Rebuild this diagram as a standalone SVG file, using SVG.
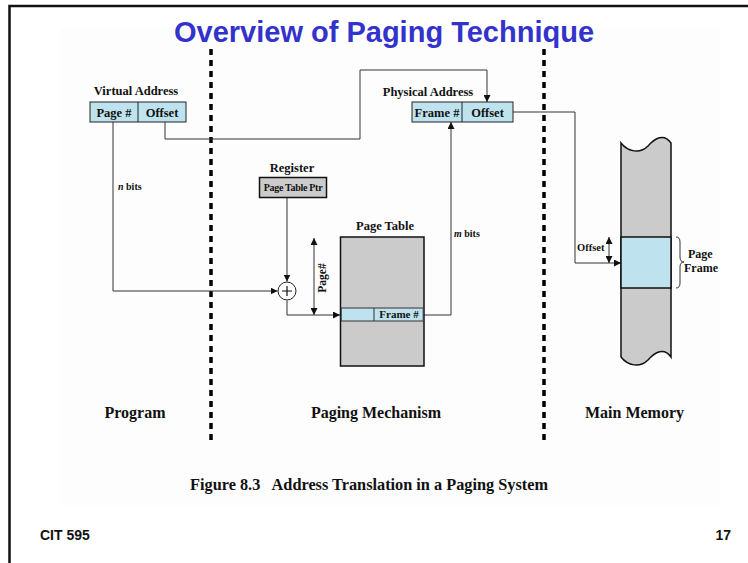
<svg xmlns="http://www.w3.org/2000/svg" width="748" height="563" viewBox="0 0 748 563">
<defs>
<style>
.t{font-family:"Liberation Serif","Times New Roman",serif;font-weight:bold;fill:#111}
.s{font-family:"Liberation Sans",Arial,sans-serif;font-weight:bold}
.ln{fill:none;stroke:#333;stroke-width:1}
.blue{fill:#bfe3ee;stroke:#222;stroke-width:1}
.gray{fill:#cbcbcb;stroke:#111;stroke-width:1.5}
.dash{stroke:#000;stroke-width:3.5;stroke-dasharray:6 5}
</style>
<marker id="ah" viewBox="0 0 10 10" refX="10" refY="5" markerWidth="7" markerHeight="7" markerUnits="userSpaceOnUse" orient="auto-start-reverse">
<path d="M0 0 L10 5 L0 10 Z" fill="#111"/>
</marker>
</defs>
<rect width="748" height="563" fill="#fff"/>
<rect x="60" y="28" width="660" height="477" fill="#fdfdfd"/>
<path d="M9.5 563 V6 H748" fill="none" stroke="#111" stroke-width="2.5"/>
<text class="s" x="384" y="42" font-size="29" fill="#3333cc" text-anchor="middle">Overview of Paging Technique</text>

<g id="dividers">
<line class="dash" x1="211" y1="49" x2="211" y2="440"/>
<line class="dash" x1="544" y1="49" x2="544" y2="440"/>
</g>

<g id="connectors">
<path class="ln" d="M113 122 V291 H277.5" marker-end="url(#ah)"/>
<path class="ln" d="M287 198 V281.5" marker-end="url(#ah)"/>
<path class="ln" d="M287 300.5 V315 H340" marker-end="url(#ah)"/>
<path class="ln" d="M165 122 V139 H360 V70 H487 V102" marker-end="url(#ah)"/>
<path class="ln" d="M424 315 H451 V122" marker-end="url(#ah)"/>
<path class="ln" d="M513 112 H575 V263 H621" marker-end="url(#ah)"/>
<path class="ln" d="M314 238 V315" marker-start="url(#ah)" marker-end="url(#ah)"/>
<path class="ln" d="M609 237 V263" marker-start="url(#ah)" marker-end="url(#ah)"/>
</g>

<g id="virtual-address">
<text class="t" x="136" y="95" font-size="12.5" text-anchor="middle">Virtual Address</text>
<rect class="blue" x="90" y="102" width="96" height="20"/>
<line x1="138" y1="102" x2="138" y2="122" stroke="#222"/>
<text class="t" x="114" y="116.5" font-size="12.5" text-anchor="middle">Page #</text>
<text class="t" x="162" y="116.5" font-size="12.5" text-anchor="middle">Offset</text>
</g>

<g id="n-bits"><text class="t" x="118" y="190" font-size="10"><tspan font-style="italic">n</tspan> bits</text></g>

<g id="register">
<text class="t" x="292" y="172" font-size="12.5" text-anchor="middle">Register</text>
<rect class="gray" x="259.5" y="177.5" width="67" height="20" stroke-width="1"/>
<text class="t" x="293" y="191" font-size="10" text-anchor="middle" letter-spacing="-0.3">Page Table Ptr</text>
</g>

<g id="adder">
<circle cx="287" cy="291" r="9" fill="#fff" stroke="#222" stroke-width="1"/>
<path d="M282 291 H292 M287 286 V296" stroke="#111" stroke-width="1.2"/>
</g>

<g id="page-number-label">
<text class="t" transform="translate(326 278) rotate(-90)" font-size="11.5" text-anchor="middle">Page#</text>
</g>

<g id="page-table">
<text class="t" x="385" y="230" font-size="12.5" text-anchor="middle">Page Table</text>
<rect class="gray" x="340.5" y="237" width="83.5" height="129"/>
<rect x="341.2" y="308" width="82" height="13" fill="#bfe3ee" stroke="#333" stroke-width="1"/>
<line x1="374" y1="308" x2="374" y2="321" stroke="#333"/>
<text class="t" x="399" y="318" font-size="11" text-anchor="middle">Frame #</text>
</g>

<g id="m-bits"><text class="t" x="454" y="237" font-size="10"><tspan font-style="italic">m</tspan> bits</text></g>

<g id="physical-address">
<text class="t" x="428" y="96" font-size="12.5" text-anchor="middle">Physical Address</text>
<rect class="blue" x="412" y="102" width="101" height="20"/>
<line x1="462" y1="102" x2="462" y2="122" stroke="#222"/>
<text class="t" x="437" y="116.5" font-size="12.5" text-anchor="middle">Frame #</text>
<text class="t" x="487.5" y="116.5" font-size="12.5" text-anchor="middle">Offset</text>
</g>

<g id="main-memory">
<path d="M621 143 C628 152 640 154 648 146 C655 138 664 133 671 143 V357 C664 347 655 352 648 360 C640 368 628 366 621 357 Z" fill="#cbcbcb" stroke="#111" stroke-width="1.5"/>
<rect x="621" y="237" width="50" height="51" fill="#bfe3ee" stroke="#111" stroke-width="1.5"/>
<text class="t" x="577" y="251" font-size="10.5">Offset</text>
<path d="M676 237 Q680 237 680 242 V257 Q680 262 684 262 Q680 262 680 267 V283 Q680 288 676 288" fill="none" stroke="#333" stroke-width="1"/>
<text class="t" x="688" y="258" font-size="12">Page</text>
<text class="t" x="684" y="272" font-size="12">Frame</text>
</g>

<g id="section-labels">
<text class="t" x="135" y="418" font-size="16" text-anchor="middle">Program</text>
<text class="t" x="376" y="418" font-size="16" text-anchor="middle">Paging Mechanism</text>
<text class="t" x="634.5" y="418" font-size="16" text-anchor="middle">Main Memory</text>
</g>

<text class="t" x="369" y="490" font-size="16.3" text-anchor="middle" xml:space="preserve">Figure 8.3   Address Translation in a Paging System</text>
<text class="s" x="40" y="540" font-size="14" fill="#111">CIT 595</text>
<text class="s" x="731" y="540" font-size="14" fill="#111" text-anchor="end">17</text>
</svg>
